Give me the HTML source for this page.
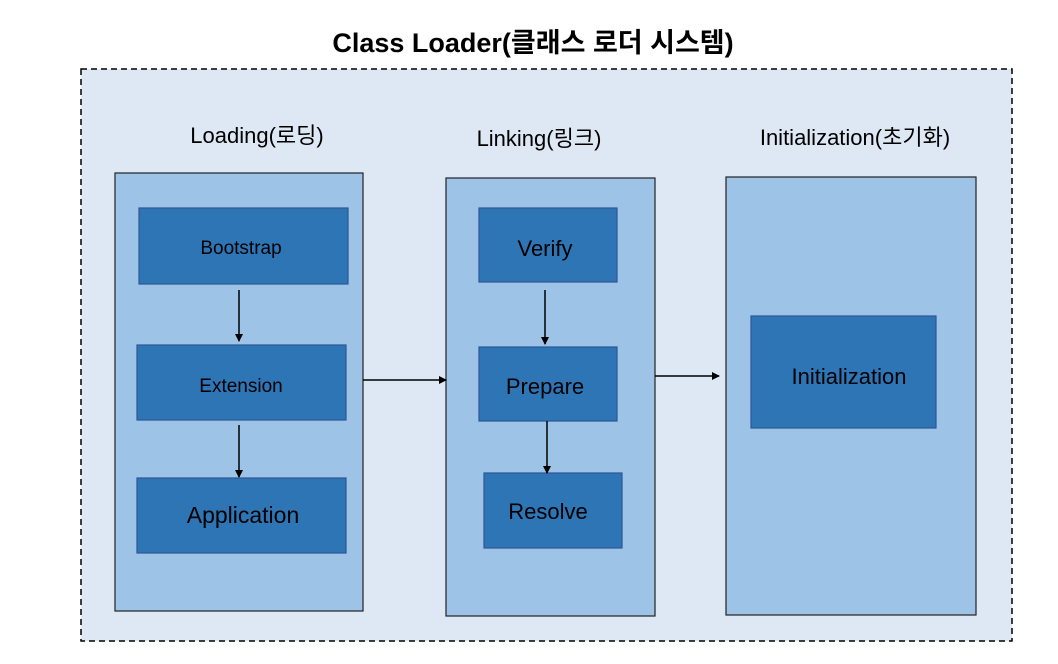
<!DOCTYPE html>
<html><head><meta charset="utf-8"><style>
html,body{margin:0;padding:0;background:#fff;width:1058px;height:664px;overflow:hidden}
text{font-family:"Liberation Sans","Noto Sans CJK KR",sans-serif;fill:#000}
</style></head><body>
<svg width="1058" height="664" viewBox="0 0 1058 664" xmlns="http://www.w3.org/2000/svg">
<defs><marker id="a" markerWidth="8" markerHeight="8" refX="7" refY="4" orient="auto" markerUnits="userSpaceOnUse"><path d="M0,0 L8,4 L0,8 z" fill="#000"/></marker></defs>
<text x="533" y="52" font-size="27" font-weight="bold" text-anchor="middle">Class Loader(클래스 로더 시스템)</text>
<rect x="81" y="69" width="931" height="572" fill="#dde8f4" stroke="#000" stroke-width="1.5" stroke-dasharray="6,4"/>
<text x="257" y="143" font-size="22" text-anchor="middle">Loading(로딩)</text>
<text x="539" y="146" font-size="22" text-anchor="middle">Linking(링크)</text>
<text x="855" y="145" font-size="22" text-anchor="middle">Initialization(초기화)</text>
<g fill="#9dc3e6" stroke="#222" stroke-width="1.2">
<rect x="115" y="173" width="248" height="438"/>
<rect x="446" y="178" width="209" height="438"/>
<rect x="726" y="177" width="250" height="438"/>
</g>
<g fill="#2e75b6" stroke="#2f5597" stroke-width="1.2">
<rect x="139" y="208" width="209" height="76"/>
<rect x="137" y="345" width="209" height="75"/>
<rect x="137" y="478" width="209" height="75"/>
<rect x="479" y="208" width="138" height="74"/>
<rect x="479" y="347" width="138" height="74"/>
<rect x="484" y="473" width="138" height="75"/>
<rect x="751" y="316" width="185" height="112"/>
</g>
<g font-size="20" text-anchor="middle">
<text x="241" y="254" font-size="19">Bootstrap</text>
<text x="241" y="392" font-size="19">Extension</text>
<text x="243" y="523" font-size="23">Application</text>
<text x="545" y="256" font-size="22">Verify</text>
<text x="545" y="394" font-size="22">Prepare</text>
<text x="548" y="519" font-size="22">Resolve</text>
<text x="849" y="384" font-size="22">Initialization</text>
</g>
<g stroke="#000" stroke-width="1.5" marker-end="url(#a)">
<line x1="239" y1="290" x2="239" y2="341"/>
<line x1="239" y1="425" x2="239" y2="477"/>
<line x1="545" y1="290" x2="545" y2="344"/>
<line x1="547" y1="421" x2="547" y2="473"/>
<line x1="363" y1="380" x2="446" y2="380"/>
<line x1="655" y1="376" x2="719" y2="376"/>
</g>
</svg>
</body></html>
